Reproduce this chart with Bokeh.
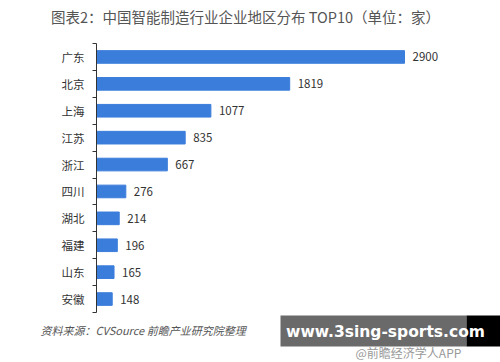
from bokeh.plotting import figure
from bokeh.models import Range1d, FixedTicker, Label, ColumnDataSource, BoxAnnotation
from bokeh.core.properties import value
from bokeh.embed import file_html
from bokeh.resources import INLINE

regions = ["广东", "北京", "上海", "江苏", "浙江", "四川", "湖北", "福建", "山东", "安徽"]
counts = [2900, 1819, 1077, 835, 667, 276, 214, 196, 165, 148]
title_text = "图表2：中国智能制造行业企业地区分布 TOP10（单位：家）"
source_text = "资料来源：CVSource  前瞻产业研究院整理"

FONT = "Noto Sans CJK SC"
W, H = 500, 362
n = len(regions)
pos = list(range(n))

# layout (page pixels): axis at x=96, 2900 ends at x=405; categories span y=43..312
AX_X, X_PER_PX = 96, 2900 / 308
TOP_Y, BOT_Y = 43, 312
ROW = (BOT_Y - TOP_Y) / n

def dx(px):
    return (px - AX_X) * X_PER_PX

def dy(py):
    return -0.5 + (py - TOP_Y) / ROW

p = figure(width=W, height=H, output_backend="svg", toolbar_location=None,
           x_range=Range1d(dx(0), dx(W)), y_range=Range1d(dy(H), dy(0)),
           x_axis_location=None, min_border=0,
           min_border_left=0, min_border_right=0, min_border_top=0, min_border_bottom=0)
p.outline_line_color = None
p.grid.visible = False
p.background_fill_color = "white"
p.border_fill_color = "white"

src = ColumnDataSource(dict(y=pos, v=counts, lab=[str(c) for c in counts]))
p.hbar(y="y", right="v", left=0, height=0.47, source=src, color="#3b7ddb")
p.text(x="v", y="y", text="lab", source=src, x_offset=8, text_baseline="middle",
       text_font=value(FONT), text_font_size="11.5px", text_color="#333333")

ax = p.yaxis[0]
ax.fixed_location = 0
ax.bounds = (-0.5, n - 0.5)
ax.ticker = FixedTicker(ticks=pos, minor_ticks=[i - 0.5 for i in range(n + 1)])
ax.major_label_overrides = {i: r for i, r in enumerate(regions)}
ax.major_tick_out = 0
ax.major_tick_in = 0
ax.minor_tick_out = 4
ax.minor_tick_in = 0
ax.minor_tick_line_color = "#333333"
ax.axis_line_color = "#333333"
ax.major_label_standoff = 8
ax.major_label_text_font = FONT
ax.major_label_text_font_size = "11.5px"
ax.major_label_text_color = "#333333"

# screen units: x from left, y from bottom of the plot area
p.add_layout(Label(x=245, y=H - 16, x_units="screen", y_units="screen", text=title_text,
                   text_align="center", text_baseline="middle", text_font=FONT,
                   text_font_size="14.5px", text_color="#555555"))
p.add_layout(Label(x=40, y=H - 329, x_units="screen", y_units="screen", text=source_text,
                   text_align="left", text_baseline="middle", text_font=FONT,
                   text_font_style="italic", text_font_size="11px", text_color="#555555"))

# overlay banner seen at the bottom right of the reference
p.add_layout(BoxAnnotation(left=dx(280), right=dx(466), top=dy(315), bottom=dy(346),
                           fill_color="#6a6a6a", fill_alpha=1, line_color=None))
p.add_layout(BoxAnnotation(left=dx(466), right=dx(500), top=dy(315), bottom=dy(346),
                           fill_color="#000000", fill_alpha=1, line_color=None))
p.add_layout(Label(x=355, y=H - 352, x_units="screen", y_units="screen", text="@前瞻经济学人APP",
                   text_align="left", text_baseline="middle", text_font=FONT,
                   text_font_size="12px", text_color="#999999"))
p.add_layout(Label(x=385, y=H - 331, x_units="screen", y_units="screen", text="www.3sing-sports.com",
                   text_align="center", text_baseline="middle", text_font="DejaVu Sans",
                   text_font_style="bold", text_font_size="15.5px", text_color="white"))

open("out.html", "w").write(file_html(p, INLINE))
